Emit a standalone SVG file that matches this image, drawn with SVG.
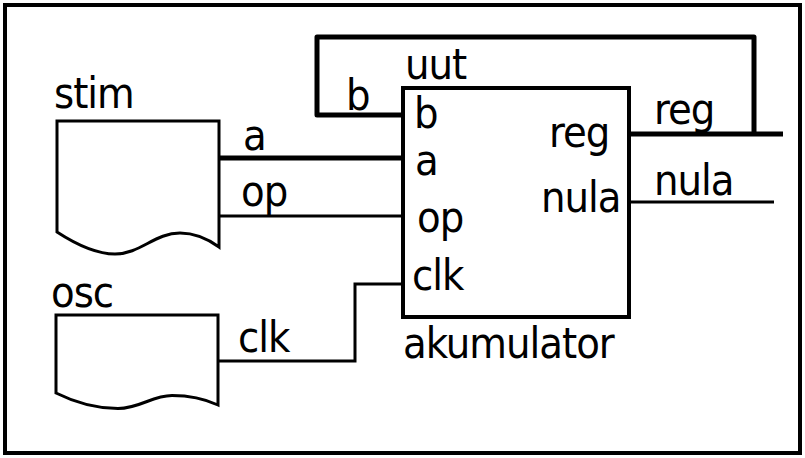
<svg xmlns="http://www.w3.org/2000/svg" width="805" height="458" viewBox="0 0 805 458">
  <style>
    text { font-family: "DejaVu Sans Condensed", "DejaVu Sans", sans-serif; font-stretch: condensed; font-size: 43px; letter-spacing: -1px; fill: #000; }
    .outline { fill: #fff; stroke: #000; stroke-width: 3; stroke-linejoin: miter; }
    .box { fill: #fff; stroke: #000; stroke-width: 4; }
    .bus { fill: none; stroke: #000; stroke-width: 5; stroke-linejoin: round; }
    .wire { fill: none; stroke: #000; stroke-width: 3; }
  </style>

  <!-- frame -->
  <rect x="5" y="5" width="795" height="448" fill="#fff" stroke="#000" stroke-width="4"/>

  <!-- stimulus generator -->
  <g id="stim">
    <path class="outline" d="M57,121 H219 V247 C208,239 195,233 180,233 C155,233 140,254 115,254 C100,254 80,247 57,232 Z"/>
    <text x="54" y="108">stim</text>
  </g>

  <!-- clock oscillator -->
  <g id="osc">
    <path class="outline" d="M56,315 H218 V405 C205,399 190,395.5 172,395.5 C152,395.5 140,408.5 118,408.5 C100,408.5 78,404 56,393 Z"/>
    <text x="51" y="307">osc</text>
  </g>

  <!-- unit under test -->
  <g id="uut">
    <rect class="box" x="403" y="88" width="226" height="229"/>
    <text x="405" y="79">uut</text>
    <text x="403" y="358">akumulator</text>
    <text x="414" y="128">b</text>
    <text x="415" y="175">a</text>
    <text x="417" y="232">op</text>
    <text x="412" y="290">clk</text>
    <text x="549" y="147">reg</text>
    <text x="541" y="212">nula</text>
  </g>

  <!-- connections -->
  <g id="connectors">
    <polyline class="bus" points="403,115 317,115 317,37 754,37 754,134"/>
    <line class="bus" x1="629" y1="134" x2="783" y2="134"/>
    <line class="wire" x1="629" y1="202" x2="774" y2="202"/>
    <line class="bus" x1="219" y1="158" x2="403" y2="158"/>
    <line class="wire" x1="219" y1="216" x2="403" y2="216"/>
    <polyline class="wire" points="218,361 355,361 355,284 403,284"/>
    <text x="346" y="110">b</text>
    <text x="243" y="150">a</text>
    <text x="241" y="206">op</text>
    <text x="238" y="352">clk</text>
    <text x="654" y="124">reg</text>
    <text x="654" y="195">nula</text>
  </g>
</svg>
